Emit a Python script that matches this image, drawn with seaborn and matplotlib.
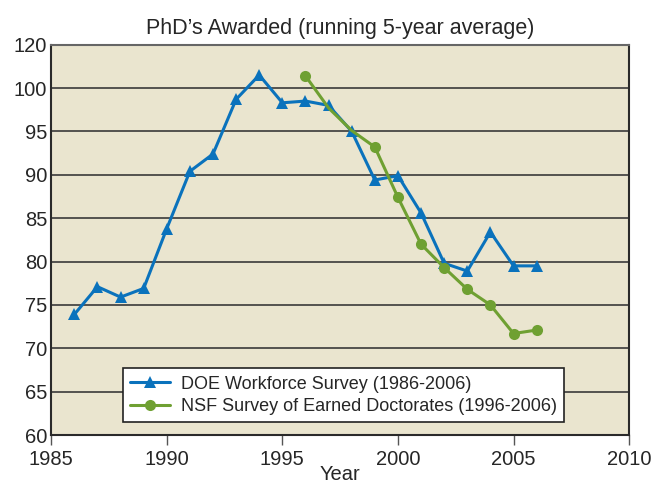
import pandas as pd
import matplotlib.pyplot as plt
import seaborn as sns

# DOE workforce survey, running 5-year average
doe_years = list(range(1986, 2007))
doe_values = [73.9, 77.1, 75.9, 76.9, 83.8, 90.4, 92.4, 98.7, 101.5, 98.3, 98.5,
              98.0, 95.0, 89.4, 89.9, 85.6, 79.8, 78.9, 83.4, 79.5, 79.5]

# NSF survey of earned doctorates
nsf_years = list(range(1996, 2007))
nsf_values = [101.4, 97.7, 95.1, 93.2, 87.4, 82.0, 79.3, 76.8, 75.0, 71.7, 72.1]

doe_label = 'DOE Workforce Survey (1986-2006)'
nsf_label = 'NSF Survey of Earned Doctorates (1996-2006)'

x_ticks = [1985, 1990, 1995, 2000, 2005, 2010]
y_ticks = [60, 65, 70, 75, 80, 85, 90, 95, 100, 105]
y_tick_labels = ['60', '65', '70', '75', '80', '85', '90', '95', '100', '120']

df = pd.concat([
    pd.DataFrame({'Year': doe_years, 'value': doe_values, 'series': doe_label}),
    pd.DataFrame({'Year': nsf_years, 'value': nsf_values, 'series': nsf_label}),
])

sns.set_style('ticks')
plt.rcParams['font.family'] = ['Liberation Sans', 'DejaVu Sans']

fig = plt.figure(figsize=(6.65, 4.91), dpi=100)
ax = fig.add_axes([0.077, 0.114, 0.869, 0.795])
ax.set_facecolor('#EAE5CF')

palette = {doe_label: '#0A72BC', nsf_label: '#6FA032'}
markers = {doe_label: '^', nsf_label: 'o'}
sns.lineplot(data=df, x='Year', y='value', hue='series', style='series',
             palette=palette, markers=markers, dashes=False, linewidth=2.2,
             markersize=8, markeredgewidth=0, ax=ax)

# NSF line drawn over DOE, its 1997/1998 markers are not shown in the original
ax.lines[0].set_zorder(3)
ax.lines[1].set_zorder(4)
ax.lines[1].set_markevery([0] + list(range(3, len(nsf_years))))

ax.set_xlim(1985, 2010)
ax.set_ylim(60, 105)
ax.set_xticks(x_ticks)
ax.set_yticks(y_ticks)
ax.set_yticklabels(y_tick_labels)
ax.tick_params(axis='x', length=7, width=1, labelsize=14.5, color='#555555', pad=4)
ax.tick_params(axis='y', length=0, labelsize=14.5, pad=3)
for y in y_ticks[1:-1]:
    ax.axhline(y, color='#3a3a3a', linewidth=1.2, zorder=1)

for side in ['left', 'bottom', 'right']:
    ax.spines[side].set_color('#2a2a2a')
    ax.spines[side].set_linewidth(1.5)
ax.spines['top'].set_color('#666666')
ax.spines['top'].set_linewidth(1.5)

ax.set_title('PhD\u2019s Awarded (running 5-year average)', fontsize=15.5, pad=8)
ax.set_xlabel('Year', fontsize=14.5, labelpad=-3)
ax.set_ylabel('')

leg = ax.legend(loc='lower center', bbox_to_anchor=(0.506, 0.033), borderaxespad=0,
                fontsize=13, frameon=True, fancybox=False, framealpha=1,
                edgecolor='#222222', handlelength=2.2, borderpad=0.4,
                labelspacing=0.3, handletextpad=0.6)
leg.get_frame().set_linewidth(1.2)

plt.savefig('out.png', dpi=100)
